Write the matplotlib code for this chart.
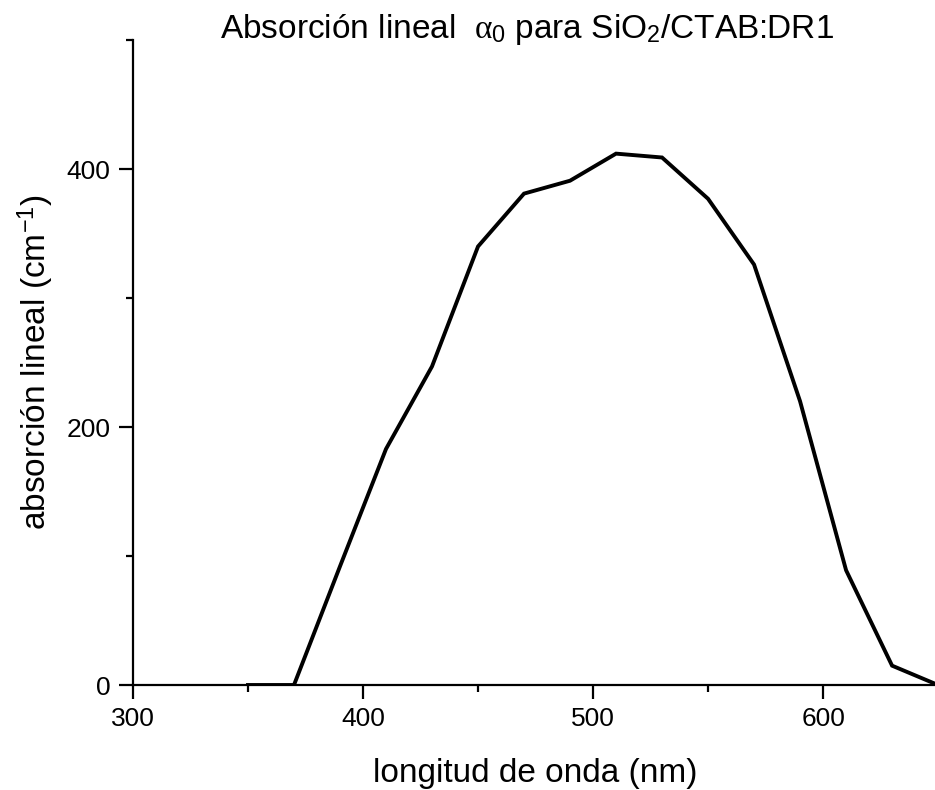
import matplotlib

matplotlib.use("Agg")
import matplotlib.pyplot as plt
from matplotlib.ticker import MultipleLocator

# wavelength (nm) and linear absorption (cm^-1)
wavelength = [350, 370, 390, 410, 430, 450, 470, 490, 510, 530, 550, 570, 590, 610, 630, 650]
absorption = [0, 0, 92, 183, 247, 340, 381, 391, 412, 409, 377, 326, 220, 89, 15, 0]

x_ticks = [300, 400, 500, 600]
y_ticks = [0, 200, 400]

plt.rcParams["font.family"] = ["Liberation Sans", "DejaVu Sans"]
plt.rcParams["mathtext.fontset"] = "custom"
plt.rcParams["mathtext.rm"] = "Liberation Sans"
plt.rcParams["mathtext.it"] = "Liberation Serif"

fig = plt.figure(figsize=(9.35, 7.9), dpi=100)
ax = fig.add_axes([0.1422, 0.1329, 0.8611, 0.8163])

ax.plot(wavelength, absorption, color="black", linewidth=2.8, solid_joinstyle="miter")

ax.set_xlim(300, 650)
ax.set_ylim(0, 500)
ax.set_xticks(x_ticks)
ax.set_yticks(y_ticks)
ax.xaxis.set_minor_locator(MultipleLocator(50))
ax.yaxis.set_minor_locator(MultipleLocator(100))

for side in ("top", "right"):
    ax.spines[side].set_visible(False)
for side in ("left", "bottom"):
    ax.spines[side].set_linewidth(1.6)

ax.tick_params(which="major", direction="out", length=10, width=1.6, labelsize=19, pad=6)
ax.tick_params(which="minor", direction="out", length=5, width=1.6)

ax.set_xlabel("longitud de onda (nm)", fontsize=24, labelpad=19)
ax.set_ylabel("absorción lineal (cm$^{-1}$)", fontsize=24, labelpad=8)

fig.text(0.564, 0.963, r"Absorción lineal  $\alpha_0$ para SiO$_2$/CTAB:DR1",
         ha="center", va="center", fontsize=24)

fig.savefig("out.png", dpi=100, facecolor="white")
plt.close(fig)
